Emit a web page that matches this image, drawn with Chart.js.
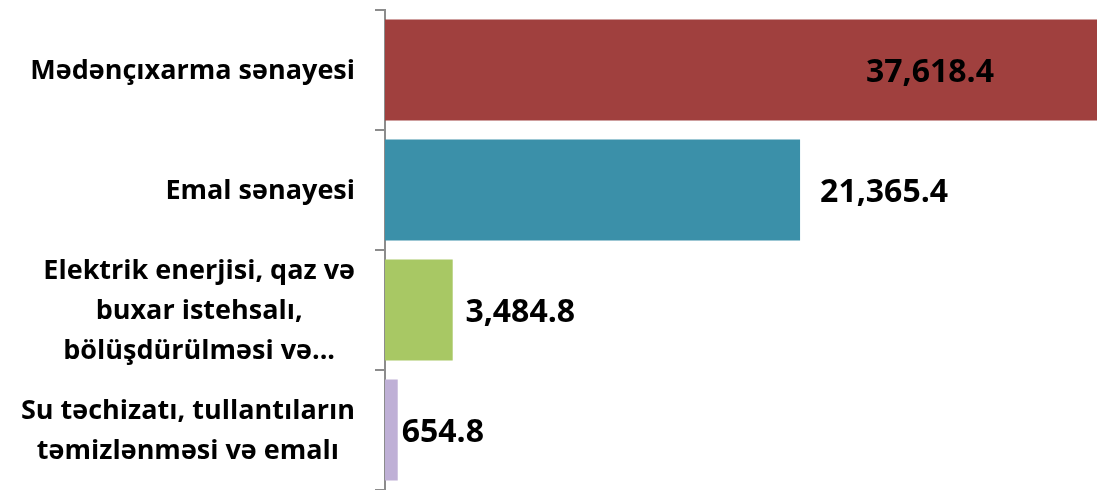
<!DOCTYPE html>
<html>
<head>
<meta charset="utf-8">
<script src="https://cdn.jsdelivr.net/npm/chart.js@4/dist/chart.umd.min.js"></script>
<style>
  html, body { margin: 0; padding: 0; background: #ffffff; }
  #wrap { width: 1097px; height: 490px; position: relative; }
</style>
</head>
<body>
<div id="wrap"><canvas id="c" width="1097" height="490"></canvas></div>
<script>
// ---- data ----
const categories = [
  ["Mədənçıxarma sənayesi"],
  ["Emal sənayesi"],
  ["Elektrik enerjisi, qaz və", "buxar istehsalı,", "bölüşdürülməsi və..."],
  ["Su təchizatı, tullantıların", "təmizlənməsi və emalı"]
];
const values = [37618.4, 21365.4, 3484.8, 654.8];
const barColors = ["#A0403E", "#3B90A9", "#A8C864", "#BFB0D6"];
const xMax = 36650;

const fmt = v => v.toLocaleString('en-US', { minimumFractionDigits: 1, maximumFractionDigits: 1 });

const labelFont = 'bold 27px "Open Sans"';
const valueFont = 'bold 32px "Open Sans"';

const drawLabels = {
  id: 'drawLabels',
  afterDraw(chart) {
    const ctx = chart.ctx;
    const area = chart.chartArea;
    const yScale = chart.scales.y;
    const meta = chart.getDatasetMeta(0);
    ctx.save();
    // category labels: block right-aligned, lines centred within block
    ctx.font = labelFont;
    ctx.fillStyle = '#000000';
    ctx.textBaseline = 'middle';
    ctx.textAlign = 'center';
    const rightEdge = area.left - 30;
    const lineH = 40;
    categories.forEach((lines, i) => {
      const y = yScale.getPixelForValue(i);
      let widest = 0;
      lines.forEach(l => { widest = Math.max(widest, ctx.measureText(l).width); });
      const cx = rightEdge - widest / 2;
      lines.forEach((l, k) => {
        ctx.fillText(l, cx, y + 1 + (k - (lines.length - 1) / 2) * lineH);
      });
    });
    // value labels
    ctx.font = valueFont;
    ctx.textAlign = 'left';
    meta.data.forEach((bar, i) => {
      const text = fmt(values[i]);
      const w = ctx.measureText(text).width;
      if (bar.x > area.right) {
        ctx.fillText(text, area.right - 167 - w / 2, bar.y + 3);
      } else {
        const gap = Math.max(4, (w - 78) * 0.4);
        ctx.fillText(text, bar.x + gap, bar.y + 3);
      }
    });
    ctx.restore();
  }
};

new Chart(document.getElementById('c'), {
  type: 'bar',
  data: {
    labels: categories,
    datasets: [{
      data: values,
      backgroundColor: barColors,
      borderWidth: 0,
      barPercentage: 0.84,
      categoryPercentage: 1.0
    }]
  },
  options: {
    indexAxis: 'y',
    responsive: false,
    animation: false,
    devicePixelRatio: 1,
    layout: { padding: { top: 10, right: 0, bottom: 0, left: 0 } },
    plugins: { legend: { display: false }, tooltip: { enabled: false } },
    scales: {
      x: {
        display: false,
        min: 0,
        max: xMax
      },
      y: {
        type: 'category',
        offset: true,
        grid: {
          display: true,
          offset: true,
          drawOnChartArea: false,
          drawTicks: true,
          tickLength: 10,
          color: '#8C8C8C',
          lineWidth: 2
        },
        border: { display: true, color: '#8C8C8C', width: 2 },
        ticks: { display: false },
        afterFit(scale) { scale.width = 385; }
      }
    }
  },
  plugins: [drawLabels]
});
</script>
</body>
</html>
